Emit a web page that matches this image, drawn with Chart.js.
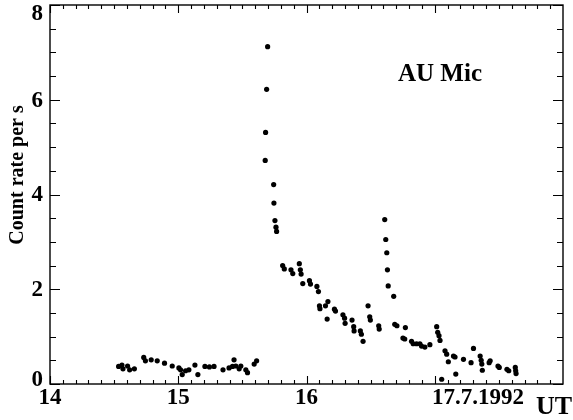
<!DOCTYPE html>
<html><head><meta charset="utf-8">
<script src="https://cdn.jsdelivr.net/npm/chart.js@4.4.1/dist/chart.umd.min.js"></script>
<style>html,body{margin:0;padding:0;background:#fff}#wrap{width:573px;height:420px}</style>
</head><body><div id="wrap"><canvas id="c" width="573" height="420"></canvas></div>
<script>
// Universal time (hours, 17.7.1992)
const utHours = [
  14.535,14.561,14.569,14.605,14.621,14.658,14.731,14.744,14.789,14.836,
  14.893,14.953,15.005,15.018,15.031,15.057,15.083,15.130,15.153,15.208,
  15.243,15.279,15.349,15.396,15.423,15.435,15.449,15.475,15.488,15.527,
  15.540,15.592,15.611,
  15.678,15.681,15.689,15.697,15.744,15.746,15.754,15.762,15.767,
  15.814,15.827,15.879,15.893,15.944,15.952,15.958,15.971,16.023,16.031,
  16.081,16.093,16.101,16.105,16.148,16.161,16.167,16.218,16.226,16.284,
  16.297,16.301,16.355,16.368,16.371,16.420,16.428,16.441,16.480,16.493,
  16.498,16.563,16.567,
  16.610,16.618,16.626,16.631,16.637,16.680,
  16.688,16.705,16.752,16.766,16.771,16.819,16.832,16.858,16.884,16.897,
  16.923,16.962,17.015,17.023,17.033,17.041,17.054,17.080,17.093,17.106,
  17.146,17.158,17.164,17.224,17.283,17.302,17.354,17.362,17.367,17.371,
  17.424,17.432,17.493,17.503,17.563,17.577,17.628,17.631,17.634
];
// Count rate per second
const countRate = [
  0.37,0.40,0.32,0.38,0.30,0.32,0.56,0.49,0.51,0.49,
  0.44,0.38,0.34,0.30,0.20,0.28,0.30,0.40,0.20,0.37,
  0.36,0.37,0.30,0.34,0.37,0.51,0.38,0.32,0.38,0.30,
  0.24,0.42,0.49,
  4.72,5.31,6.22,7.12,4.21,3.82,3.45,3.31,3.22,
  2.50,2.43,2.41,2.33,2.54,2.41,2.32,2.12,2.18,2.11,
  2.06,1.95,1.65,1.59,1.65,1.37,1.74,1.58,1.54,1.46,
  1.39,1.28,1.35,1.21,1.12,1.12,1.05,0.90,1.65,1.42,
  1.35,1.23,1.16,
  3.47,3.05,2.77,2.41,2.07,1.85,
  1.26,1.23,0.97,0.95,1.19,0.90,0.85,0.85,0.85,0.80,
  0.78,0.83,1.21,1.09,1.02,0.92,0.10,0.70,0.63,0.47,
  0.59,0.57,0.21,0.52,0.45,0.75,0.59,0.50,0.42,0.29,
  0.45,0.49,0.38,0.35,0.31,0.28,0.35,0.28,0.22
];
const xTickValues = [14, 15, 16, 17];
const xTickLabels = ['14', '15', '16', '17.7.1992'];
const yTickValues = [0, 2, 4, 6, 8];
const yTickLabels = ['0', '2', '4', '6', '8'];
const starName = 'AU Mic';
const xUnit = 'UT';
const yTitle = 'Count rate per s';

const SERIF = '"Liberation Serif", "DejaVu Serif", serif';

const framePlugin = {
  id: 'framePlugin',
  afterDraw(chart) {
    const {ctx, chartArea: a, scales: {x, y}} = chart;
    ctx.save();
    ctx.strokeStyle = '#000';
    ctx.lineWidth = 1.4;
    ctx.strokeRect(a.left, a.top, a.right - a.left, a.bottom - a.top);
    ctx.lineWidth = 1.1;
    ctx.beginPath();
    for (let i = 0; i <= 40; i++) {
      const v = 14 + i / 10;
      const px = Math.round(x.getPixelForValue(v)) + 0.5;
      if (px > a.right) break;
      const len = (i % 10 === 0) ? 8 : 4;
      ctx.moveTo(px, a.bottom); ctx.lineTo(px, a.bottom - len);
      ctx.moveTo(px, a.top); ctx.lineTo(px, a.top + len);
    }
    for (let j = 0; j <= 16; j++) {
      const v = j * 0.5;
      const py = Math.round(y.getPixelForValue(v)) + 0.5;
      const len = (j % 4 === 0) ? 10 : 6;
      ctx.moveTo(a.left, py); ctx.lineTo(a.left + len, py);
      ctx.moveTo(a.right, py); ctx.lineTo(a.right - len, py);
    }
    ctx.stroke();
    // y tick labels (kept inside the canvas at the ends, as in the original)
    ctx.fillStyle = '#000';
    ctx.font = 'bold 23px ' + SERIF;
    ctx.textAlign = 'right';
    ctx.textBaseline = 'middle';
    yTickValues.forEach((v, k) => {
      let py = y.getPixelForValue(v);
      py = Math.min(Math.max(py, a.top + 8), a.bottom - 5);
      ctx.fillText(yTickLabels[k], a.left - 7, py + 1);
    });
    // texts
    ctx.font = 'bold 25px ' + SERIF;
    ctx.textAlign = 'left';
    ctx.textBaseline = 'middle';
    ctx.fillText(starName, 398, 75);
    ctx.font = 'bold 26px ' + SERIF;
    ctx.textBaseline = 'top';
    ctx.fillText(xUnit, 536, 394);
    ctx.save();
    ctx.translate(18, 175);
    ctx.rotate(-Math.PI / 2);
    ctx.font = 'bold 20px ' + SERIF;
    ctx.textAlign = 'center';
    ctx.textBaseline = 'middle';
    ctx.fillText(yTitle, 0, 0);
    ctx.restore();
    ctx.restore();
  }
};

new Chart(document.getElementById('c'), {
  type: 'scatter',
  data: {
    datasets: [{
      data: utHours.map((t, i) => ({x: t, y: countRate[i]})),
      backgroundColor: '#000',
      borderColor: '#000',
      pointRadius: 2.6,
      pointBorderWidth: 0,
      pointHoverRadius: 2.6
    }]
  },
  options: {
    responsive: false,
    animation: false,
    devicePixelRatio: 1,
    layout: {padding: {top: 5, right: 10, left: 0, bottom: 0}},
    plugins: {legend: {display: false}, tooltip: {enabled: false}},
    scales: {
      x: {
        type: 'linear', min: 14, max: 18,
        grid: {display: false, drawTicks: false}, border: {display: false},
        afterFit: s => { s.height = 36; s.paddingLeft = 0; s.paddingRight = 0; },
        afterBuildTicks: s => { s.ticks = xTickValues.map(v => ({value: v})); },
        ticks: {
          autoSkip: false, maxRotation: 0, minRotation: 0, padding: 0, color: '#000',
          font: {family: SERIF, size: 23, weight: 'bold'},
          callback: v => {
            const k = xTickValues.indexOf(v);
            if (k < 0) return '';
            const lab = xTickLabels[k];
            return lab.length > 2 ? ' '.repeat(15) + lab : lab;
          }
        }
      },
      y: {
        type: 'linear', min: 0, max: 8,
        grid: {display: false, drawTicks: false}, border: {display: false},
        afterFit: s => { s.width = 50; s.paddingTop = 0; s.paddingBottom = 0; },
        afterBuildTicks: s => { s.ticks = yTickValues.map(v => ({value: v})); },
        ticks: {display: false}
      }
    }
  },
  plugins: [framePlugin]
});
</script></body></html>
